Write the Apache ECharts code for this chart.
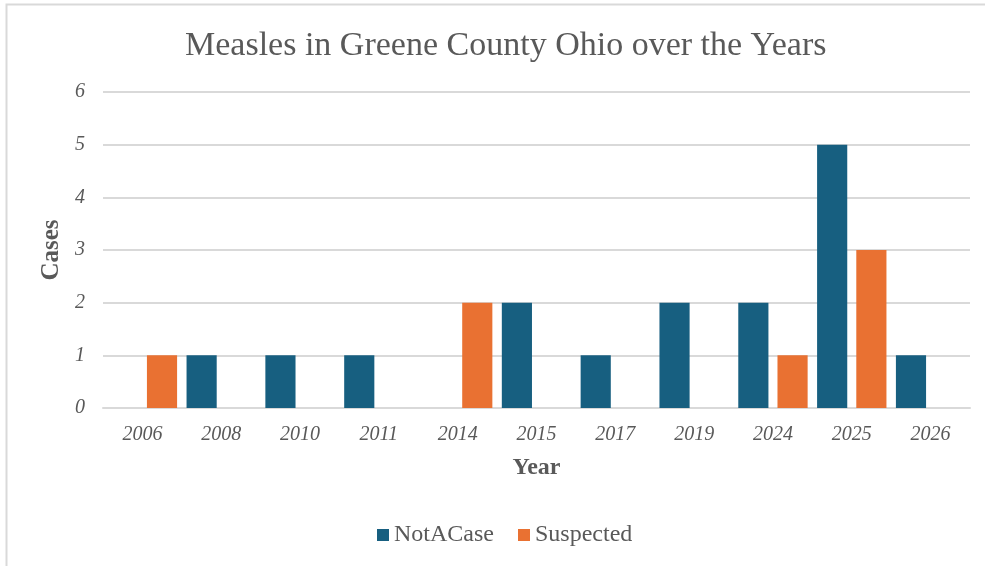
<!DOCTYPE html>
<html>
<head>
<meta charset="utf-8">
<script src="https://cdn.jsdelivr.net/npm/echarts@6/dist/echarts.min.js"></script>
<style>
  html, body { margin: 0; padding: 0; background: #fff; }
  #chart { width: 985px; height: 566px; }
</style>
</head>
<body>
<div id="chart"></div>
<script>
var years = ["2006", "2008", "2010", "2011", "2014", "2015", "2017", "2019", "2024", "2025", "2026"];
var notACase = [null, 1, 1, 1, null, 2, 1, 2, 2, 5, 1];
var suspected = [1, null, null, null, 2, null, null, null, 1, 3, null];
var yTicks = [0, 1, 2, 3, 4, 5, 6];

var serif = "'Liberation Serif', 'Times New Roman', serif";
var myChart = echarts.init(document.getElementById("chart"));

var option = {
  backgroundColor: "#fff",
  color: ["#175f80", "#e97132"],
  title: {
    text: "Measles in Greene County Ohio over the Years",
    left: 180,
    top: 24,
    textStyle: {
      fontFamily: serif,
      fontWeight: "normal",
      fontSize: 34,
      color: "#595959",
    },
  },
  // chart area border, like the excel frame
  graphic: [
    {
      type: "rect",
      shape: { x: 6.5, y: 4.5, width: 990, height: 600 },
      style: { fill: "none", stroke: "#d9d9d9", lineWidth: 2 },
      silent: true,
    },
  ],
  legend: {
    bottom: 14,
    left: 372,
    itemWidth: 12,
    itemHeight: 12,
    itemGap: 24,
    icon: "rect",
    textStyle: {
      fontFamily: serif,
      fontSize: 24,
      color: "#595959",
    },
    data: ["NotACase", "Suspected"],
  },
  grid: {
    left: 103,
    right: 15,
    top: 92,
    bottom: 158,
  },
  xAxis: {
    type: "category",
    data: years,
    name: "Year",
    nameLocation: "middle",
    nameGap: 48,
    nameTextStyle: {
      fontFamily: serif,
      fontWeight: "bold",
      fontSize: 24,
      color: "#595959",
    },
    axisLine: { show: true, lineStyle: { color: "#d9d9d9", width: 2 } },
    axisTick: { show: false },
    axisLabel: {
      margin: 17,
      fontFamily: serif,
      fontStyle: "italic",
      fontSize: 20,
      color: "#595959",
    },
  },
  yAxis: {
    type: "value",
    min: yTicks[0],
    max: yTicks[yTicks.length - 1],
    interval: 1,
    name: "Cases",
    nameLocation: "middle",
    nameGap: 37,
    nameTextStyle: {
      fontFamily: serif,
      fontWeight: "bold",
      fontSize: 25,
      color: "#595959",
    },
    axisLine: { show: false },
    axisTick: { show: false },
    axisLabel: {
      margin: 18,
      fontFamily: serif,
      fontStyle: "italic",
      fontSize: 20,
      color: "#595959",
    },
    splitLine: { lineStyle: { color: "#d9d9d9", width: 2 } },
  },
  series: [
    {
      name: "NotACase",
      type: "bar",
      data: notACase,
      barGap: "30%",
      barCategoryGap: "12%",
    },
    {
      name: "Suspected",
      type: "bar",
      data: suspected,
    },
  ],
};

myChart.setOption(option);
window.addEventListener("resize", function () {
  myChart.resize();
});
</script>
</body>
</html>
